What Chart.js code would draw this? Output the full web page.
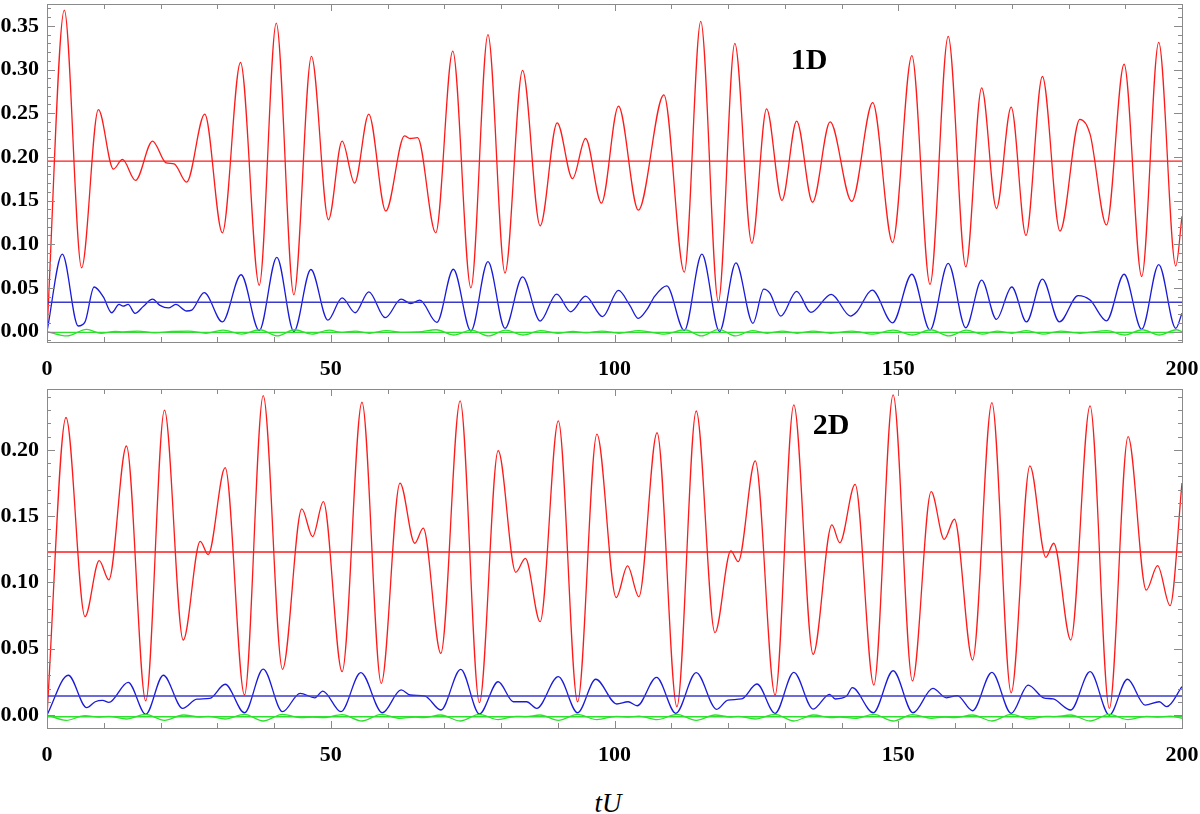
<!DOCTYPE html>
<html>
<head>
<meta charset="utf-8">
<script src="https://cdn.jsdelivr.net/npm/chart.js@4.4.0/dist/chart.umd.min.js"></script>
<style>
html,body{margin:0;padding:0;background:#fff;}
body{width:1200px;height:814px;overflow:hidden;position:relative;}
.wrap{position:absolute;left:0;width:1200px;height:385px;}
#w1{top:0;}
#w2{top:385px;}
.lbl{position:absolute;font-family:"Liberation Serif","DejaVu Serif",serif;color:#000;white-space:nowrap;transform:translate(-50%,-50%);line-height:1;}
.panel{font-weight:bold;font-size:30px;}
#xt{font-style:italic;font-size:27px;}
</style>
</head>
<body>
<div class="wrap" id="w1"><canvas id="c1"></canvas></div>
<div class="wrap" id="w2"><canvas id="c2"></canvas></div>
<div class="lbl panel" style="left:809px;top:59px;">1D</div>
<div class="lbl panel" style="left:831px;top:424px;">2D</div>
<div class="lbl" id="xt" style="left:608px;top:803px;">tU</div>
<script>
// ---------- tick labels ----------
const xTicks = [0, 50, 100, 150, 200];
const yTicks1D = [0.00, 0.05, 0.10, 0.15, 0.20, 0.25, 0.30, 0.35];
const yTicks2D = [0.00, 0.05, 0.10, 0.15, 0.20];

// ---------- 1D panel ----------
const t1Red = [0,3.05,6.1,9.05,11.7,13.3,15.6,18.6,21.0,22.4,24.6,27.8,30.9,34.1,37.4,40.4,43.5,46.6,49.6,52.0,54.2,56.7,59.7,63.0,64.0,65.3,68.5,71.5,74.7,77.7,80.7,83.8,86.9,89.9,92.6,94.9,97.7,100.7,104.2,108.7,112.3,115.2,118.3,121.2,124.2,126.8,129.5,132.1,134.9,138.0,141.8,145.5,149.0,152.4,155.6,158.8,161.9,164.7,167.3,169.9,172.5,175.4,178.5,182.0,183.8,186.7,189.8,192.9,195.9,198.9,200];
const v1Red = [0,0.368,0.073,0.254,0.186,0.197,0.173,0.218,0.193,0.192,0.171,0.249,0.113,0.308,0.053,0.353,0.042,0.315,0.128,0.218,0.170,0.249,0.138,0.224,0.221,0.222,0.113,0.321,0.050,0.340,0.067,0.299,0.121,0.239,0.175,0.221,0.147,0.258,0.139,0.271,0.068,0.355,0.034,0.330,0.101,0.255,0.150,0.241,0.148,0.240,0.149,0.262,0.102,0.316,0.054,0.338,0.074,0.279,0.141,0.257,0.110,0.292,0.115,0.243,0.226,0.122,0.306,0.063,0.331,0.075,0.132];

const t1Blue = [0,2.7,5.5,6.7,8.3,9.9,11.4,12.7,13.4,14.3,15.5,17.0,18.6,19.9,21.4,22.7,24.6,25.5,27.7,30.9,34.2,37.4,40.5,43.5,46.5,49.5,52.0,54.3,56.7,59.6,62.4,64.1,65.7,68.7,71.6,74.7,77.7,80.7,83.8,86.9,89.8,92.3,94.9,97.9,100.7,102.7,104.2,105.7,107.1,109.2,112.3,115.4,118.5,121.4,124.4,126.3,127.4,129.3,132.1,134.6,138.2,141.6,142.7,145.4,149.0,152.4,155.6,158.8,161.9,164.7,167.3,170.0,172.6,175.4,178.4,181.7,183.8,186.7,189.8,192.9,195.9,198.9,200];
const v1Blue = [0,0.0885,0.0063,0.011,0.051,0.040,0.0215,0.031,0.029,0.031,0.0208,0.029,0.037,0.030,0.027,0.031,0.0235,0.0245,0.0445,0.011,0.065,0.001,0.085,0.000,0.071,0.013,0.0386,0.0215,0.0455,0.0158,0.037,0.032,0.036,0.0105,0.0713,0.0006,0.080,0.0037,0.0626,0.012,0.0428,0.0226,0.0405,0.017,0.047,0.030,0.015,0.025,0.0405,0.0523,0.001,0.0885,0.000,0.0786,0.0094,0.0485,0.0436,0.0177,0.046,0.0219,0.0425,0.0177,0.0226,0.0474,0.010,0.0656,0.0017,0.078,0.0043,0.0588,0.014,0.051,0.011,0.060,0.011,0.041,0.036,0.0123,0.0656,0.0025,0.0767,0.0037,0.021];

const t1Green = [0,3.5,7,9.5,12,13.5,16,19,22,25,28,31,34.3,37.5,40.6,43.6,46.7,49.7,52,54.3,56.8,59.8,63,65.5,68.6,71.7,74.8,77.8,80.8,83.9,87,90,92.7,95,97.8,100.8,104.3,108.8,112.4,115.3,118.4,121.3,124.3,126.9,129.6,132.2,135,138.1,141.9,145.6,149.1,152.5,155.7,158.9,162,164.8,167.4,170,172.6,175.5,178.6,182,186.8,189.9,193,196,199,200];
const v1Green = [0,-0.005,0.0025,-0.002,0.0,-0.0005,0.0005,-0.0015,0,0.0005,-0.002,0.0015,-0.003,0.002,-0.005,0.002,-0.003,0.0015,-0.001,0.0005,-0.002,0.001,-0.001,-0.0005,0.002,-0.004,0.0015,-0.005,0.0015,-0.004,0.001,-0.002,0,-0.0015,0.0005,-0.002,0.001,-0.003,0.002,-0.005,0.0025,-0.005,0.001,-0.002,0.0005,-0.002,0.0005,-0.002,0.0005,-0.003,0.0015,-0.004,0.002,-0.005,0.0015,-0.003,0.0005,-0.002,0.001,-0.003,0.0005,-0.002,0.001,-0.004,0.002,-0.004,0.002,0];

const mean1Red = 0.195, mean1Blue = 0.0335, mean1Green = -0.001;

// ---------- 2D panel ----------
const t2Red = [0,3.35,6.7,9.2,10.9,14.0,17.4,20.7,24.0,27.0,28.4,31.4,34.8,38.1,41.5,44.9,46.8,48.7,52.0,55.5,58.9,62.2,64.8,66.3,69.4,72.8,76.2,79.5,82.6,84.3,86.9,90.1,93.5,96.9,100.3,102.3,104.3,107.5,111.0,114.4,117.7,120.5,121.8,124.8,128.3,131.6,135.0,138.3,139.7,142.4,145.7,149.1,152.5,155.8,158.1,159.9,163.1,166.5,169.9,173.2,176.0,177.4,180.4,183.8,187.2,190.5,193.7,195.7,197.9,200];
const v2Red = [0,0.2245,0.0742,0.1165,0.102,0.203,0.0106,0.230,0.0566,0.131,0.121,0.1866,0.0151,0.241,0.0345,0.1555,0.1346,0.161,0.0327,0.236,0.0239,0.175,0.1296,0.141,0.0465,0.237,0.0093,0.1995,0.1077,0.1182,0.0704,0.222,0.010,0.212,0.0886,0.1125,0.0893,0.213,0.0063,0.2294,0.0621,0.1238,0.1157,0.1917,0.0151,0.234,0.0458,0.1434,0.130,0.174,0.0226,0.2415,0.0257,0.1685,0.1326,0.1477,0.0415,0.2357,0.0168,0.188,0.119,0.1296,0.0566,0.2332,0.005,0.210,0.0943,0.1127,0.0825,0.175];

const t2Blue = [0,3.75,7.0,8.5,9.8,10.9,14.3,17.4,20.5,23.9,26.4,28.7,31.4,34.8,38.1,41.5,44.6,47.2,48.6,51.8,55.3,59.1,62.4,64.0,66.6,69.4,72.9,76.2,79.5,82.2,84.5,86.3,90.1,93.5,96.7,100.4,102.4,104.0,107.4,110.8,114.4,118.0,120.0,122.4,125.1,128.3,131.6,135.0,137.9,138.9,140.9,141.9,145.6,149.1,152.6,156.1,158.5,160.4,163.1,166.5,169.9,172.9,175.6,177.3,180.4,183.8,187.2,190.4,193.5,196.0,197.3,200];
const v2Blue = [0,0.030,0.0055,0.010,0.011,0.0095,0.0247,0.0005,0.030,0.005,0.012,0.0126,0.0232,0.0017,0.0347,0.0025,0.0164,0.013,0.0181,0.0025,0.032,0.0017,0.0189,0.0151,0.0143,0.0038,0.0345,0.0008,0.0251,0.010,0.010,0.005,0.0289,0.0017,0.027,0.0083,0.010,0.007,0.0284,0.0013,0.032,0.0043,0.0113,0.0121,0.0234,0.0013,0.0322,0.0045,0.0156,0.0121,0.0143,0.0206,0.0017,0.0334,0.0017,0.0201,0.013,0.0146,0.0032,0.0322,0.0013,0.0226,0.013,0.0121,0.0038,0.0327,0.0,0.027,0.0075,0.010,0.0063,0.0214];

const t2Green = [0,3.4,6.7,9.2,10.9,14,17.4,20.7,24,27,28.4,31.4,34.8,38.1,41.5,44.9,46.8,48.7,52,55.5,58.9,62.2,64.8,66.3,69.4,72.8,76.2,79.5,82.6,84.3,86.9,90.1,93.5,96.9,100.3,102.3,104.3,107.5,111,114.4,117.7,120.5,121.8,124.8,128.3,131.6,135,138.3,139.7,142.4,145.7,149.1,152.5,155.8,158.1,159.9,163.1,166.5,169.9,173.2,176,177.4,180.4,183.8,187.2,190.5,193.7,195.7,197.9,200];
const v2Green = [0,-0.004,-0.0005,-0.0015,-0.001,-0.003,0.0005,-0.004,0,-0.0015,-0.001,-0.003,0.0005,-0.0045,0.0005,-0.002,-0.0015,-0.002,0.0003,-0.0045,0.0005,-0.0025,-0.0015,-0.002,0,-0.0045,0.0005,-0.0035,-0.001,-0.0012,0,-0.004,0.0005,-0.0035,-0.001,-0.0015,-0.0008,-0.0035,0.0005,-0.004,0,-0.0015,-0.001,-0.003,0.0005,-0.0045,0,-0.002,-0.0015,-0.0025,0.0005,-0.0045,0.0003,-0.0025,-0.0015,-0.002,0,-0.0045,0.0005,-0.003,-0.001,-0.0012,0,-0.0045,0.0005,-0.0035,-0.001,-0.0015,-0.0008,-0.0025];

const mean2Red = 0.123, mean2Blue = 0.0143, mean2Green = -0.0013;

// ---------- helpers ----------
const RED = '#ff1a1a', BLUE = '#1a1ad9', GREEN = '#2ee02e';
const MEAN_BLUE = '#3a3acc';
const zip = (ts, vs) => ts.map((t, i) => ({x: t, y: vs[i]}));
const flat = (v) => [{x: 0, y: v}, {x: 200, y: v}];
const ds = (data, color, w) => ({data, borderColor: color, borderWidth: w, pointRadius: 0, fill: false, cubicInterpolationMode: 'monotone'});

const frameTicks = {
  id: 'frameTicks',
  afterDraw(chart) {
    const {ctx, chartArea: a, scales: {x, y}} = chart;
    ctx.save();
    ctx.strokeStyle = '#8a8a8a';
    ctx.lineWidth = 1;
    ctx.beginPath();
    for (let t = 0; t <= 200; t += 10) {
      const px = Math.round(x.getPixelForValue(t)) + 0.5;
      const len = (t % 50 === 0) ? 7 : 5;
      ctx.moveTo(px, a.bottom); ctx.lineTo(px, a.bottom - len);
      ctx.moveTo(px, a.top); ctx.lineTo(px, a.top + len);
    }
    const step = 0.01;
    for (let k = Math.ceil(y.min / step); k * step <= y.max; k++) {
      const v = k * step;
      const py = Math.round(y.getPixelForValue(v)) + 0.5;
      const len = (k % 5 === 0) ? 8 : 4;
      ctx.moveTo(a.left, py); ctx.lineTo(a.left + len, py);
      ctx.moveTo(a.right, py); ctx.lineTo(a.right - len, py);
    }
    ctx.stroke();
    ctx.strokeRect(Math.round(a.left) + 0.5, Math.round(a.top) + 0.5, Math.round(a.right - a.left), Math.round(a.bottom - a.top));
    ctx.restore();
  }
};

const tickFont = {family: '"Liberation Serif", "DejaVu Serif", serif', size: 22, weight: 'bold'};

function makeChart(id, datasets, yMin, yMax, yTicks, xAxisH) {
  return new Chart(document.getElementById(id), {
    type: 'line',
    data: {datasets},
    options: {
      responsive: true,
      maintainAspectRatio: false,
      animation: false,
      events: [],
      layout: {padding: {top: 4, right: 18, left: 0, bottom: 0}},
      plugins: {legend: {display: false}, tooltip: {enabled: false}},
      scales: {
        x: {
          type: 'linear', min: 0, max: 200,
          grid: {display: false, drawTicks: false},
          border: {display: false},
          afterBuildTicks: s => { s.ticks = xTicks.map(v => ({value: v})); },
          afterFit: s => { s.height = xAxisH; s.paddingLeft = 0; s.paddingRight = 0; },
          ticks: {font: tickFont, color: '#000', padding: 14, maxRotation: 0, autoSkip: false, callback: v => String(v)}
        },
        y: {
          type: 'linear', min: yMin, max: yMax,
          grid: {display: false, drawTicks: false},
          border: {display: false},
          afterBuildTicks: s => { s.ticks = yTicks.map(v => ({value: v})); },
          afterFit: s => { s.width = 47; s.paddingTop = 0; s.paddingBottom = 0; },
          ticks: {font: tickFont, color: '#000', padding: 8, autoSkip: false, callback: v => Number(v).toFixed(2)}
        }
      }
    },
    plugins: [frameTicks]
  });
}

makeChart('c1', [
  ds(flat(mean1Green), GREEN, 1.3),
  ds(zip(t1Green, v1Green), GREEN, 1.3),
  ds(flat(mean1Blue), MEAN_BLUE, 1.6),
  ds(zip(t1Blue, v1Blue), BLUE, 1.3),
  ds(flat(mean1Red), RED, 1.3),
  ds(zip(t1Red, v1Red), RED, 1.3)
], -0.012, 0.375, yTicks1D, 43);

makeChart('c2', [
  ds(flat(mean2Green), GREEN, 1.3),
  ds(zip(t2Green, v2Green), GREEN, 1.3),
  ds(flat(mean2Blue), MEAN_BLUE, 1.6),
  ds(zip(t2Blue, v2Blue), BLUE, 1.3),
  ds(flat(mean2Red), RED, 1.3),
  ds(zip(t2Red, v2Red), RED, 1.3)
], -0.0098, 0.246, yTicks2D, 42);
</script>
</body>
</html>
